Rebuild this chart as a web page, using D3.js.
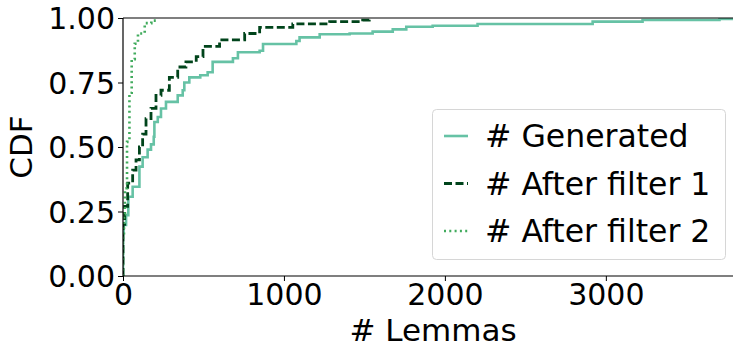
<!DOCTYPE html>
<html>
<head>
<meta charset="utf-8">
<script src="https://cdn.jsdelivr.net/npm/d3@7"></script>
<style>
  html, body { margin: 0; padding: 0; background: #fff; }
  svg { display: block; font-family: "DejaVu Sans", sans-serif; }
</style>
</head>
<body>
<svg id="chart" width="733" height="350"></svg>
<script>
const seriesNames = ["# Generated", "# After filter 1", "# After filter 2"];

const generatedX = [0, 0, 4, 19, 33, 60, 102, 122, 153, 174, 191, 195, 216, 236, 267, 340, 371, 381, 412, 480, 526, 557, 683, 714, 849, 870, 1077, 1097, 1222, 1408, 1551, 1676, 1760, 1924, 2203, 2918, 3228, 3706, 3790];
const generatedCdf = [0, 0.17, 0.198, 0.236, 0.307, 0.346, 0.424, 0.46, 0.49, 0.51, 0.54, 0.597, 0.616, 0.649, 0.675, 0.70, 0.72, 0.75, 0.77, 0.778, 0.79, 0.83, 0.844, 0.867, 0.873, 0.899, 0.911, 0.925, 0.937, 0.94, 0.947, 0.956, 0.966, 0.97, 0.977, 0.986, 0.992, 0.996, 1.0];

const filter1X = [0, 0, 10, 29, 60, 81, 102, 122, 143, 174, 205, 236, 288, 340, 391, 455, 497, 600, 756, 849, 1055, 1284, 1489, 1530];
const filter1Cdf = [0, 0.2, 0.27, 0.36, 0.41, 0.45, 0.50, 0.55, 0.61, 0.65, 0.70, 0.72, 0.77, 0.81, 0.83, 0.85, 0.89, 0.915, 0.94, 0.964, 0.977, 0.986, 0.992, 1.0];

const filter2X = [0, 0, 6, 12, 25, 40, 54, 73, 93, 135, 176, 207];
const filter2Cdf = [0, 0.15, 0.24, 0.34, 0.52, 0.71, 0.84, 0.90, 0.94, 0.98, 0.99, 1.0];

const xTicks = [0, 1000, 2000, 3000];
const yTicks = [0, 0.25, 0.5, 0.75, 1.0];
const xMax = 3790;

// ---- layout ----
const svg = d3.select("#chart");
const pLeft = 123, pRight = 733, pTop = 18, pBottom = 276;

const x = d3.scaleLinear().domain([0, xMax]).range([pLeft, pRight]);
const y = d3.scaleLinear().domain([0, 1]).range([pBottom, pTop]);

const styles = [
  { color: "#66c2a5", dash: null, width: 2.6 },
  { color: "#00441b", dash: "8,3.5", width: 2.8 },
  { color: "#41ab5d", dash: "2,3.3", width: 2.6 }
];

const series = [
  { xs: generatedX, ys: generatedCdf },
  { xs: filter1X, ys: filter1Cdf },
  { xs: filter2X, ys: filter2Cdf }
];

svg.append("defs").append("clipPath").attr("id", "clip")
  .append("rect").attr("x", pLeft).attr("y", pTop)
  .attr("width", pRight - pLeft).attr("height", pBottom - pTop);

const line = d3.line()
  .x(d => x(d[0])).y(d => y(d[1]))
  .curve(d3.curveStepAfter);

const g = svg.append("g").attr("clip-path", "url(#clip)");
series.forEach((s, i) => {
  const pts = s.xs.map((v, j) => [v, s.ys[j]]);
  g.append("path")
    .attr("d", line(pts))
    .attr("fill", "none")
    .attr("stroke", styles[i].color)
    .attr("stroke-width", styles[i].width)
    .attr("stroke-dasharray", styles[i].dash)
    .attr("stroke-linejoin", "miter");
});

// axes
const xAxis = d3.axisBottom(x).tickValues(xTicks).tickSize(5).tickPadding(3).tickFormat(d3.format("d"));
const yAxis = d3.axisLeft(y).tickValues(yTicks).tickSize(5).tickPadding(3).tickFormat(d3.format(".2f"));

const gx = svg.append("g").attr("transform", `translate(0,${pBottom})`).call(xAxis);
const gy = svg.append("g").attr("transform", `translate(${pLeft},0)`).call(yAxis);
[gx, gy].forEach(a => {
  a.select(".domain").remove();
  a.selectAll(".tick line").attr("stroke", "#000").attr("stroke-width", 1);
  a.selectAll(".tick text").attr("font-size", 30).attr("fill", "#000")
    .attr("font-family", "DejaVu Sans, sans-serif");
});
gy.selectAll(".tick text").attr("dy", "0.36em");

// spines
svg.append("line").attr("x1", pLeft).attr("x2", pRight).attr("y1", pBottom).attr("y2", pBottom)
  .attr("stroke", "#000").attr("stroke-width", 1.2);
svg.append("line").attr("x1", pLeft).attr("x2", pRight).attr("y1", pTop).attr("y2", pTop)
  .attr("stroke", "#000").attr("stroke-width", 1.2);
svg.append("line").attr("x1", pLeft).attr("x2", pLeft).attr("y1", pTop).attr("y2", pBottom)
  .attr("stroke", "#000").attr("stroke-width", 1.2);

// axis labels
svg.append("text").attr("x", 433).attr("y", 341)
  .attr("text-anchor", "middle").attr("font-size", 31).text("# Lemmas");
svg.append("text").attr("transform", `translate(32,${(pTop + pBottom) / 2}) rotate(-90)`)
  .attr("text-anchor", "middle").attr("font-size", 31).text("CDF");

// legend
const lg = svg.append("g");
lg.append("rect").attr("x", 432.5).attr("y", 109.5).attr("width", 293).attr("height", 150)
  .attr("rx", 4).attr("fill", "#fff").attr("fill-opacity", 0.8)
  .attr("stroke", "#d6d6d6").attr("stroke-width", 1);
const rowY = [136, 183.5, 231];
seriesNames.forEach((name, i) => {
  lg.append("line").attr("x1", 444).attr("x2", 468).attr("y1", rowY[i]).attr("y2", rowY[i])
    .attr("stroke", styles[i].color).attr("stroke-width", styles[i].width)
    .attr("stroke-dasharray", styles[i].dash);
  lg.append("text").attr("x", 485).attr("y", rowY[i]).attr("dy", "0.36em")
    .attr("font-size", 31.5).attr("fill", "#000").text(name);
});
</script>
</body>
</html>
